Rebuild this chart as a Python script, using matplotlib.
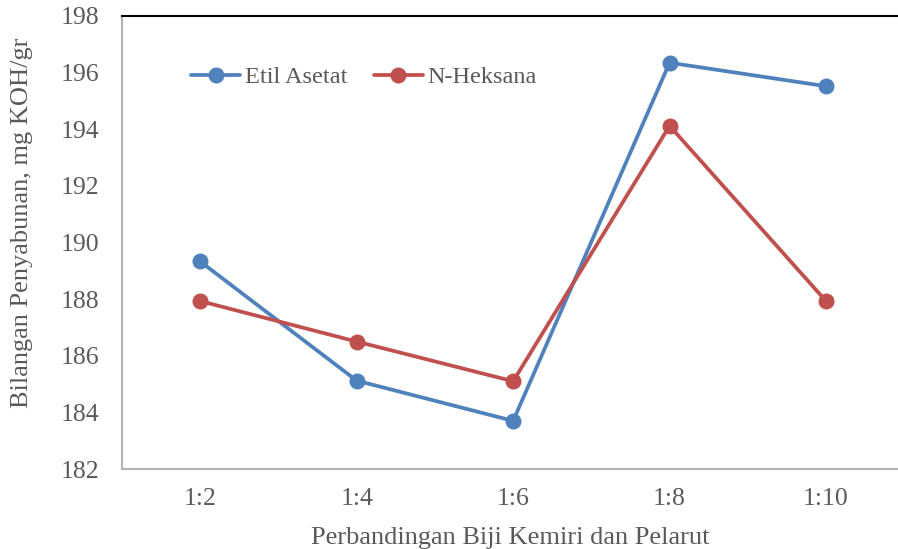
import matplotlib
matplotlib.use("Agg")
import matplotlib.pyplot as plt

categories = ["1:2", "1:4", "1:6", "1:8", "1:10"]
etil_asetat = [189.33, 185.12, 183.70, 196.35, 195.52]
n_heksana = [187.93, 186.50, 185.10, 194.12, 187.93]
yticks = [182, 184, 186, 188, 190, 192, 194, 196, 198]

plt.rcParams['font.family'] = ['Liberation Serif', 'DejaVu Serif']
text_color = '#595959'

fig = plt.figure(figsize=(8.98, 5.49), dpi=100)
W, H = 898, 549
left, right, top, bottom = 122, 898, 16, 469
ax = fig.add_axes([left / W, 1 - bottom / H, (right - left) / W, (bottom - top) / H])

x = list(range(len(categories)))
ax.plot(x, etil_asetat, color='#4F81BD', lw=2.7, marker='o', ms=10.5, label='Etil Asetat',
        solid_capstyle='round')
ax.plot(x, n_heksana, color='#C0504D', lw=2.7, marker='o', ms=10.5, label='N-Heksana',
        solid_capstyle='round')

ax.set_ylim(182, 198)
ax.set_yticks(yticks)
ax.set_xlim(-0.5, 4.46)
ax.set_xticks(x)
ax.set_xticklabels(categories)
ax.tick_params(axis='both', length=0, labelsize=18.5, colors=text_color, pad=14)
ax.tick_params(axis='y', pad=16)

for s in ['left', 'bottom']:
    ax.spines[s].set_color('#B3B3B3')
    ax.spines[s].set_linewidth(1.5)
ax.spines['right'].set_visible(False)
ax.spines['top'].set_color('black')
ax.spines['top'].set_linewidth(1.5)

ax.set_xlabel('Perbandingan Biji Kemiri dan Pelarut', fontsize=19, color=text_color, labelpad=12)
ax.set_ylabel('Bilangan Penyabunan, mg KOH/gr', fontsize=19, color=text_color)
ax.yaxis.set_label_coords(-0.115, 0.543)

leg = ax.legend(loc='center left', bbox_to_anchor=(0.077, 0.865), ncol=2, frameon=False,
                fontsize=17.5, handlelength=2.0, handletextpad=0.2, columnspacing=1.1,
                borderaxespad=0, labelcolor=text_color)

fig.savefig('out.png', dpi=100)
